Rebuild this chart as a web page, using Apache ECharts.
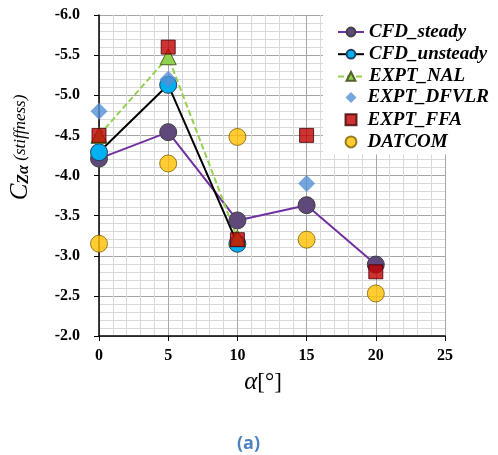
<!DOCTYPE html>
<html>
<head>
<meta charset="utf-8">
<script src="https://cdn.jsdelivr.net/npm/echarts@6/dist/echarts.min.js"></script>
<style>html,body{margin:0;padding:0;background:#fff;}#c{width:498px;height:455px;}</style>
</head>
<body>
<div id="c"></div>
<script>
// Data
const alphaAll = [0, 5, 10, 15, 20];
const alphaUnsteady = [0, 5, 10];
const cfdSteady = [-4.21, -4.54, -3.44, -3.63, -2.89];
const cfdUnsteady = [-4.29, -5.13, -3.15];
const exptNAL = [-4.5, -5.48, -3.22];
const alphaDFVLR = [0, 5, 15];
const exptDFVLR = [-4.8, -5.2, -3.9];
const exptFFA = [-4.5, -5.6, -3.2, -4.5, -2.8];
const datcom = [-3.15, -4.15, -4.48, -3.2, -2.53];
const seriesNames = ['CFD_steady', 'CFD_unsteady', 'EXPT_NAL', 'EXPT_DFVLR', 'EXPT_FFA', 'DATCOM'];

const pair = (xs, ys) => xs.map((x, i) => [x, ys[i]]);
const serif = 'Liberation Serif';
const legendText = { fontFamily: serif, fontSize: 19, fontWeight: 'bold', fontStyle: 'italic', color: '#000' };
const chart = echarts.init(document.getElementById('c'));
chart.setOption({
  animation: false,
  backgroundColor: '#fff',
  title: {
    text: '(a)', left: 232, top: 430,
    textStyle: { color: '#4f81bd', fontSize: 18, fontWeight: 'bold', fontFamily: 'Open Sans' }
  },
  grid: { left: 97, right: 53, top: 15, bottom: 119 },
  legend: [
    {
      orient: 'vertical', left: 323, top: 15,
      padding: [7.5, 40, 0, 14],
      backgroundColor: '#fff',
      itemWidth: 26, itemHeight: 11, itemGap: 3.2,
      data: seriesNames.slice(0, 3),
      textStyle: legendText
    },
    {
      orient: 'vertical', left: 323, top: 85.5,
      padding: [2.5, 40, 3, 21.5],
      backgroundColor: '#fff',
      itemWidth: 11, itemHeight: 11, itemGap: 3.2,
      data: seriesNames.slice(3),
      textStyle: Object.assign({ padding: [0, 0, 0, 6] }, legendText)
    }
  ],
  xAxis: {
    type: 'value', min: 0, max: 25, interval: 5,
    name: '{a|α}{b|[°]}', nameLocation: 'middle', nameGap: 34,
    nameTextStyle: {
      padding: [0, 18, 0, 0],
      rich: {
        a: { fontFamily: serif, fontStyle: 'italic', fontSize: 25, color: '#000' },
        b: { fontFamily: serif, fontSize: 23, color: '#000' }
      }
    },
    axisLine: { lineStyle: { color: '#000', width: 1.5 } },
    axisTick: { show: true, length: 5, lineStyle: { color: '#000' } },
    axisLabel: { fontFamily: serif, fontSize: 16, fontWeight: 'bold', color: '#000', margin: 12 },
    splitLine: { show: true, lineStyle: { color: '#a6a6a6', width: 1 } },
    minorTick: { show: false, splitNumber: 5 },
    minorSplitLine: { show: true, lineStyle: { color: '#d9d9d9', width: 1 } }
  },
  yAxis: {
    type: 'value', min: -6, max: -2, interval: 0.5, inverse: true,
    name: '{c|C}{s|Zα}{t| (stiffness)}', nameLocation: 'middle', nameGap: 66,
    nameTextStyle: {
      padding: [0, 0, 0, 56],
      rich: {
        c: { fontFamily: serif, fontStyle: 'italic', fontSize: 25, color: '#000' },
        s: { fontFamily: serif, fontStyle: 'italic', fontWeight: 'bold', fontSize: 16, color: '#000', padding: [7, 0, 0, 0] },
        t: { fontFamily: serif, fontStyle: 'italic', fontSize: 17, color: '#000' }
      }
    },
    axisLine: { show: true, lineStyle: { color: '#000', width: 1.5 } },
    axisTick: { show: true, length: 5, lineStyle: { color: '#000' } },
    axisLabel: { fontFamily: serif, fontSize: 16, fontWeight: 'bold', color: '#000', margin: 19,
      formatter: v => v.toFixed(1) },
    splitLine: { show: true, lineStyle: { color: '#a6a6a6', width: 1 } },
    minorTick: { show: false, splitNumber: 5 },
    minorSplitLine: { show: true, lineStyle: { color: '#d9d9d9', width: 1 } }
  },
  series: [
    {
      name: seriesNames[0], type: 'line', z: 3, data: pair(alphaAll, cfdSteady),
      symbol: 'circle', symbolSize: 17,
      lineStyle: { color: '#7030a0', width: 2 },
      itemStyle: { color: '#5f497a', borderColor: '#3f3f3f', borderWidth: 1 }
    },
    {
      name: seriesNames[1], type: 'line', z: 3, data: pair(alphaUnsteady, cfdUnsteady),
      symbol: 'circle', symbolSize: 17,
      lineStyle: { color: '#000', width: 2 },
      itemStyle: { color: '#00b0f0', borderColor: '#1f3f5f', borderWidth: 1 }
    },
    {
      name: seriesNames[2], type: 'line', z: 3, data: pair(alphaUnsteady, exptNAL),
      symbol: 'triangle', symbolSize: 16,
      lineStyle: { color: '#92d050', width: 2, type: [6, 3] },
      itemStyle: { color: '#92d050', borderColor: '#4f6228', borderWidth: 1 }
    },
    {
      name: seriesNames[3], type: 'scatter', z: 3, data: pair(alphaDFVLR, exptDFVLR),
      symbol: 'diamond', symbolSize: 17,
      itemStyle: { color: '#558ed5', borderColor: '#558ed5', borderWidth: 0 }
    },
    {
      name: seriesNames[4], type: 'scatter', z: 3, data: pair(alphaAll, exptFFA),
      symbol: 'rect', symbolSize: 14,
      itemStyle: { color: '#c00000', borderColor: '#3f0000', borderWidth: 1 }
    },
    {
      name: seriesNames[5], type: 'scatter', z: 3, data: pair(alphaAll, datcom),
      symbol: 'circle', symbolSize: 17,
      itemStyle: { color: '#ffc000', borderColor: '#7f6000', borderWidth: 1 }
    }
  ]
});
</script>
</body>
</html>
